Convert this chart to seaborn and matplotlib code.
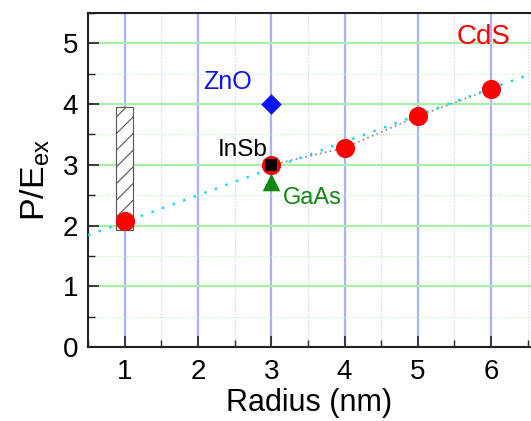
import seaborn as sns
import matplotlib.pyplot as plt
import matplotlib.ticker as mticker
import pandas as pd

# CdS data points
cds_radius = [1, 3, 4, 5, 6]
cds_ratio = [2.08, 3.0, 3.28, 3.80, 4.25]

# other materials (all at 3 nm)
zno_radius = [3]
zno_ratio = [4.0]
insb_radius = [3]
insb_ratio = [3.0]
gaas_radius = [3]
gaas_ratio = [2.71]

# linear fit
fit_radius = [0.5, 6.55]
fit_ratio = [1.84, 4.50]

# hatched range at 1 nm
range_radius = [1.0]
range_low = [1.92]
range_high = [3.95]

sns.set_style('ticks')
plt.rcParams['font.family'] = ['Liberation Sans', 'DejaVu Sans']
plt.rcParams['hatch.linewidth'] = 0.8

fig = plt.figure(figsize=(5.31, 4.21), dpi=100)
ax = fig.add_axes([0.1657, 0.1758, 0.8343, 0.7932])

cds = pd.DataFrame({'Radius': cds_radius, 'Ratio': cds_ratio})
fit = pd.DataFrame({'Radius': fit_radius, 'Ratio': fit_ratio})

# grid
ax.set_axisbelow(True)
ax.xaxis.set_major_locator(mticker.MultipleLocator(1))
ax.xaxis.set_minor_locator(mticker.MultipleLocator(0.5))
ax.yaxis.set_major_locator(mticker.MultipleLocator(1))
ax.yaxis.set_minor_locator(mticker.MultipleLocator(0.5))
ax.grid(which='major', axis='x', color='#aab0ff', lw=1.6)
ax.grid(which='minor', axis='x', color='#c8c8ff', lw=0.8, ls=':')
ax.grid(which='major', axis='y', color='#a8f0a8', lw=1.6)
ax.grid(which='minor', axis='y', color='#b8f0b8', lw=0.8, ls=':')

heights = [h - l for h, l in zip(range_high, range_low)]
ax.bar(range_radius, heights, bottom=range_low, width=0.23, color='white',
       edgecolor='#555555', hatch='//', lw=0.8, zorder=2)

sns.lineplot(data=cds[cds['Radius'] >= 3], x='Radius', y='Ratio', ax=ax,
             color='#888888', lw=1.2, ls=(0, (1, 2)), zorder=3)
sns.lineplot(data=fit, x='Radius', y='Ratio', ax=ax,
             color='#20d8e8', lw=1.8, ls=(0, (1, 3.5)), zorder=3)

sns.scatterplot(data=cds, x='Radius', y='Ratio', ax=ax, color='red',
                s=190, marker='o', linewidth=0, zorder=4)
sns.scatterplot(x=zno_radius, y=zno_ratio, ax=ax, color='#0a14f0',
                s=110, marker='D', linewidth=0, zorder=5)
sns.scatterplot(x=insb_radius, y=insb_ratio, ax=ax, color='black',
                s=70, marker='s', linewidth=0, zorder=5)
sns.scatterplot(x=gaas_radius, y=gaas_ratio, ax=ax, color='#118811',
                s=160, marker='^', linewidth=0, zorder=5)

ax.text(5.89, 5.10, 'CdS', color='red', fontsize=20, ha='center', va='center')
ax.text(2.41, 4.36, 'ZnO', color='#0a14f0', fontsize=18, ha='center', va='center')
ax.text(2.61, 3.24, 'InSb', color='black', fontsize=17.5, ha='center', va='center')
ax.text(3.56, 2.45, 'GaAs', color='#118811', fontsize=17, ha='center', va='center')

ax.set_xlim(0.5, 6.544)
ax.set_ylim(0, 5.5)
ax.set_xticks([1, 2, 3, 4, 5, 6])
ax.set_yticks([0, 1, 2, 3, 4, 5])

ax.set_xlabel('Radius (nm)', fontsize=22, labelpad=2, color='black')
ax.set_ylabel('P/E$_{\\mathregular{ex}}$', fontsize=24.5, labelpad=8, color='black')
ax.tick_params(which='major', direction='in', length=8, width=1.2,
               labelsize=20, pad=7, top=False, right=False,
               colors='#222222', labelcolor='black')
ax.tick_params(axis='x', which='major', pad=9)
ax.tick_params(which='minor', direction='in', length=5, width=1.0,
               top=False, right=False, colors='#222222')
for side in ['left', 'bottom', 'top']:
    ax.spines[side].set_linewidth(1.5)
    ax.spines[side].set_color('#222222')
ax.spines['right'].set_visible(False)

fig.savefig('out.png', dpi=100)
